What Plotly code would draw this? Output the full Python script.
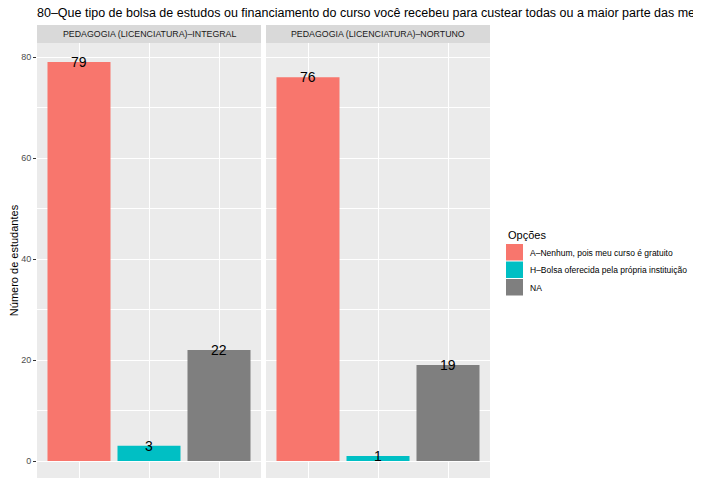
import plotly.graph_objects as go

# ---- data ----
facets = ["PEDAGOGIA (LICENCIATURA)–INTEGRAL", "PEDAGOGIA (LICENCIATURA)–NORTUNO"]
options = ["A–Nenhum, pois meu curso é gratuito",
           "H–Bolsa oferecida pela própria instituição",
           "NA"]
values_integral = [79, 3, 22]
values_noturno = [76, 1, 19]
colors = ["#F8766D", "#00BFC4", "#7F7F7F"]
title_text = ("80–Que tipo de bolsa de estudos ou financiamento do curso você recebeu "
              "para custear todas ou a maior parte das mensalidades no seu curso de graduação?")
y_title = "Número de estudantes"
legend_title = "Opções"

OFF = 8  # default body margin of the html page
W, H = 701 - OFF, 478 - OFF
ML, MR, MT, MB = 37 - OFF, 701 - 490, 25 - OFF, 0
PW = W - ML - MR
PH = H - MT - MB
FONT = "Liberation Sans, Arial, sans-serif"


def px_x(p):  # page pixel -> paper
    return (p - OFF - ML) / PW


def px_y(p):
    return (H - MB - (p - OFF)) / PH


panel_top = 43
ydom_top = px_y(panel_top)
dom1 = [0, px_x(261)]
dom2 = [px_x(266), 1]

fig = go.Figure()
all_vals = [values_integral, values_noturno]
for i, vals in enumerate(all_vals):
    xa = "x" if i == 0 else "x2"
    ya = "y" if i == 0 else "y2"
    fig.add_trace(go.Bar(
        x=options, y=vals, marker=dict(color=colors, line=dict(width=0)),
        width=0.9, xaxis=xa, yaxis=ya, showlegend=False, hoverinfo="x+y"))
    for o, v in zip(options, vals):
        fig.add_annotation(x=o, y=v, xref=xa, yref=ya, text=str(v), showarrow=False,
                           yanchor="middle", xanchor="center",
                           font=dict(size=14, color="black", family=FONT))

# y range so that 0 is at page px 461 and 80 at page px 57
ppu = (461 - 57) / 80
yr = [-(478 - 461) / ppu, 80 + (57 - panel_top) / ppu]

common_x = dict(range=[-0.6, 2.6], showticklabels=False, ticks="",
                showgrid=True, gridcolor="white", gridwidth=1.1,
                zeroline=False, showline=False, fixedrange=True)
common_y = dict(range=yr, domain=[0, ydom_top], dtick=20, tick0=0,
                showgrid=True, gridcolor="white", gridwidth=1.1,
                minor=dict(dtick=10, tick0=0, showgrid=True, gridcolor="white", gridwidth=0.55),
                zeroline=False, showline=False, fixedrange=True)

fig.update_layout(
    xaxis=dict(domain=dom1, **common_x),
    xaxis2=dict(domain=dom2, **common_x),
    yaxis=dict(anchor="x", ticks="outside", ticklen=3, tickcolor="#333333", tickwidth=1,
               tickfont=dict(size=9, color="#4D4D4D", family=FONT),
               title=dict(text=y_title, font=dict(size=11, color="black", family=FONT), standoff=2),
               **common_y),
    yaxis2=dict(anchor="x2", showticklabels=False, ticks="", **common_y),
    plot_bgcolor="#EBEBEB",
    paper_bgcolor="white",
    width=W, height=H,
    margin=dict(l=ML, r=MR, t=MT, b=MB),
    showlegend=False,
    title=dict(text=title_text, x=0, xref="paper", xanchor="left",
               y=1 - (13 - OFF) / H, yref="container", yanchor="middle",
               font=dict(size=12.5, color="black", family=FONT)),
)

shapes = []
for dom, lab in zip([dom1, dom2], facets):
    shapes.append(dict(type="rect", xref="paper", yref="paper", x0=dom[0], x1=dom[1],
                       y0=ydom_top, y1=1, fillcolor="#D9D9D9", line=dict(width=0), layer="below"))
    fig.add_annotation(x=(dom[0] + dom[1]) / 2, y=(ydom_top + 1) / 2, xref="paper", yref="paper",
                       text=lab, showarrow=False, xanchor="center", yanchor="middle",
                       font=dict(size=8.8, color="#1A1A1A", family=FONT))
# legend (manual, ggplot style)
fig.add_annotation(x=px_x(506), y=px_y(235), xref="paper", yref="paper", text=legend_title,
                   showarrow=False, xanchor="left", yanchor="middle",
                   font=dict(size=11, color="black", family=FONT))
key_tops = [244, 261.5, 279]
for k, (lab, col) in enumerate(zip(options, colors)):
    t = key_tops[k]
    shapes.append(dict(type="rect", xref="paper", yref="paper",
                       x0=px_x(506), x1=px_x(523), y0=px_y(t + 16.5), y1=px_y(t),
                       fillcolor=col, line=dict(width=0)))
    fig.add_annotation(x=px_x(528), y=px_y(t + 8.5), xref="paper", yref="paper", text=lab,
                       showarrow=False, xanchor="left", yanchor="middle",
                       font=dict(size=8.5, color="black", family=FONT))
fig.update_layout(shapes=shapes)

fig.write_html("out.html")
